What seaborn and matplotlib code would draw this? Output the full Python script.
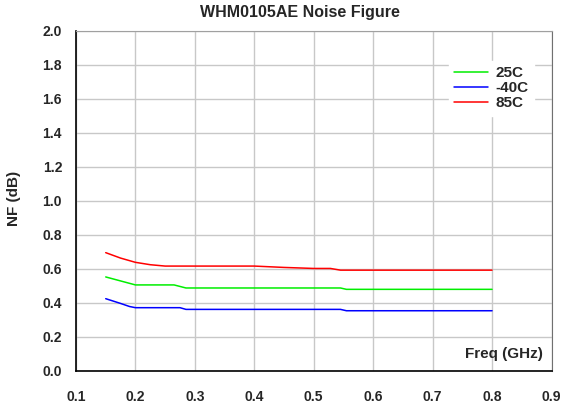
import matplotlib
matplotlib.use("Agg")
import matplotlib.pyplot as plt
import seaborn as sns
import pandas as pd
from matplotlib.ticker import MultipleLocator

# ---- data ----
freq_25 = [0.15, 0.20, 0.265, 0.285, 0.545, 0.555, 0.80]
nf_25 = [0.552, 0.505, 0.505, 0.487, 0.487, 0.479, 0.479]

freq_m40 = [0.15, 0.175, 0.19, 0.20, 0.275, 0.285, 0.545, 0.555, 0.80]
nf_m40 = [0.424, 0.396, 0.378, 0.371, 0.371, 0.361, 0.361, 0.353, 0.353]

freq_85 = [0.15, 0.175, 0.20, 0.225, 0.25, 0.40, 0.45, 0.50, 0.528, 0.545, 0.80]
nf_85 = [0.695, 0.663, 0.638, 0.624, 0.616, 0.616, 0.608, 0.602, 0.602, 0.592, 0.592]

series_names = ["25C", "-40C", "85C"]
series_colors = ["#00EE00", "#0000FF", "#FF0000"]

x_ticks = [0.1, 0.2, 0.3, 0.4, 0.5, 0.6, 0.7, 0.8, 0.9]
y_ticks = [0.0, 0.2, 0.4, 0.6, 0.8, 1.0, 1.2, 1.4, 1.6, 1.8, 2.0]

title = "WHM0105AE Noise Figure"
xlabel = "Freq (GHz)"
ylabel = "NF (dB)"

frames = []
for name, xs, ys in zip(series_names, [freq_25, freq_m40, freq_85], [nf_25, nf_m40, nf_85]):
    frames.append(pd.DataFrame({"freq": xs, "nf": ys, "temp": name}))
df = pd.concat(frames, ignore_index=True)

sns.set_style("white")
plt.rcParams["font.family"] = ["Liberation Sans", "DejaVu Sans"]
plt.rcParams["font.weight"] = "bold"

W, H = 568, 409
L, R, T, B = 76, 551.5, 31, 370.7
fig = plt.figure(figsize=(W / 100, H / 100), dpi=100)
ax = fig.add_axes([L / W, 1 - B / H, (R - L) / W, (B - T) / H])

sns.lineplot(data=df, x="freq", y="nf", hue="temp", hue_order=series_names,
             palette=dict(zip(series_names, series_colors)), ax=ax,
             linewidth=1.1, estimator=None, sort=False)

ax.set_xlim(0.1, 0.9)
ax.set_ylim(0.0, 2.0)
ax.set_xticks(x_ticks)
ax.set_xticklabels([f"{v:.1f}" for v in x_ticks])
ax.set_yticks(y_ticks)
ax.set_yticklabels([f"{v:.1f}" for v in y_ticks])
ax.xaxis.set_minor_locator(MultipleLocator(0.02))
ax.yaxis.set_minor_locator(MultipleLocator(0.04))

ax.grid(True, which="major", color="#c8c8c8", linewidth=1.0)
ax.set_axisbelow(True)

ax.tick_params(axis="both", which="major", direction="in", length=6, width=1,
               color="black", labelsize=10)
ax.tick_params(axis="y", which="major", pad=10)
ax.tick_params(axis="x", which="major", pad=14)
ax.tick_params(axis="both", which="minor", direction="in", length=4, width=1, color="black")
for lab in ax.get_xticklabels() + ax.get_yticklabels():
    lab.set_fontweight("bold")

for side in ["left", "bottom"]:
    ax.spines[side].set_color("black")
    ax.spines[side].set_linewidth(1.2)
ax.spines["top"].set_color("#a0a0a0")
ax.spines["right"].set_color("#707070")
for s in ax.spines.values():
    s.set_visible(True)

ax.set_xlabel("")
ax.set_ylabel(ylabel, fontsize=11, fontweight="bold")
ax.yaxis.set_label_coords((21 - L) / (R - L), (B - 198) / (B - T))
ax.text((543 - L) / (R - L), (B - 358) / (B - T), xlabel, transform=ax.transAxes,
        ha="right", va="baseline", fontsize=11, fontweight="bold")
fig.text(300 / W, 1 - 13 / H, title, ha="center", va="center",
         fontsize=11.5, fontweight="bold")

leg = ax.legend(loc="upper right", bbox_to_anchor=((534 - L) / (R - L), (B - 61) / (B - T)),
                frameon=True, fancybox=False, edgecolor="white", framealpha=1.0,
                prop={"size": 11, "weight": "bold"}, handlelength=2.2,
                handletextpad=0.5, labelspacing=0.07, borderpad=0.35,
                borderaxespad=0.0)

fig.savefig("out.png", dpi=100)
